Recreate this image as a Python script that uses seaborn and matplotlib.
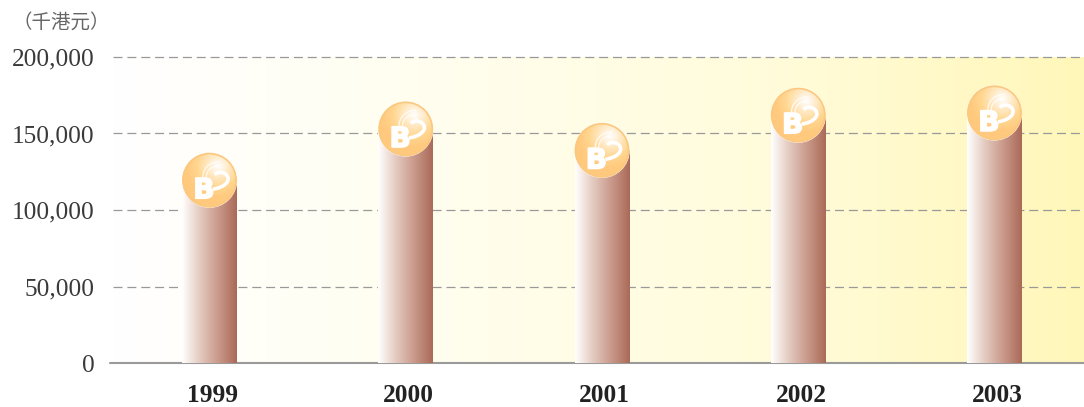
import numpy as np
import pandas as pd
import seaborn as sns
import matplotlib
matplotlib.use("Agg")
import matplotlib.pyplot as plt
import matplotlib.patheffects as pe
from matplotlib.colors import LinearSegmentedColormap
from matplotlib.patches import Circle, PathPatch
from matplotlib.path import Path
from matplotlib.transforms import ScaledTranslation

years = ["1999", "2000", "2001", "2002", "2003"]
turnover = [119500, 153000, 139000, 162000, 163500]
y_ticks = [0, 50000, 100000, 150000, 200000]
unit_label = "（千港元）"

W, H = 1084, 407
BAR_LEFT, BAR_STEP = 209.5, 196.25

sns.set_theme(style="white")
plt.rcParams["font.family"] = ["Liberation Serif", "DejaVu Serif"]

fig = plt.figure(figsize=(W / 100, H / 100), dpi=100)
ax = fig.add_axes([110 / W, 1 - 363 / H, (W - 110) / W, 306 / H])

# background wash, white on the left to pale yellow on the right
wash = LinearSegmentedColormap.from_list("wash", ["#ffffff", "#fffeee", "#fffcdc", "#fff7b9"])
xlim = ((110 - BAR_LEFT) / BAR_STEP, (W - BAR_LEFT) / BAR_STEP)
ax.imshow(np.linspace(0, 1, 256).reshape(1, -1), cmap=wash, aspect="auto",
          extent=[xlim[0], xlim[1], 0, 200000], zorder=0)

df = pd.DataFrame({"year": years, "turnover": turnover})
sns.barplot(data=df, x="year", y="turnover", width=0.28, color="white", linewidth=0, ax=ax, zorder=3)

# cylinder shading on the bars
shade = LinearSegmentedColormap.from_list("shade", ["#ffffff", "#e3c9bf", "#c9998a", "#ab6a58"])
for bar in ax.patches:
    x0, y0, w, h = bar.get_x(), bar.get_y(), bar.get_width(), bar.get_height()
    ax.imshow(np.linspace(0, 1, 128).reshape(1, -1), cmap=shade, aspect="auto",
              extent=[x0, x0 + w, y0, y0 + h], zorder=4)
ax.set_xlim(*xlim)
ax.set_ylim(0, 200000)

# dashed grid, starts a little right of the axis
for tick in y_ticks[1:]:
    ax.plot([(113 - BAR_LEFT) / BAR_STEP, xlim[1]], [tick, tick], color="#999999", lw=0.9,
            dashes=(7.2, 3.9), zorder=2, clip_on=False)
ax.axhline(0, color="#9a9a9a", lw=1.5, zorder=2, clip_on=False)

ax.set_yticks(y_ticks)
ax.set_yticklabels([f"{t:,}" for t in y_ticks], fontsize=18.2, color="#3a3a3a")
ax.set_xticks(range(len(years)))
ax.set_xticklabels(years, fontsize=18.3, fontweight="bold", color="#222222")
ax.tick_params(axis="y", length=0, pad=11)
ax.tick_params(axis="x", length=0, pad=15)
for label in ax.get_xticklabels():
    label.set_transform(label.get_transform() + ScaledTranslation(2 / 72, 0, fig.dpi_scale_trans))
ax.set_xlabel("")
ax.set_ylabel("")
sns.despine(ax=ax, left=True, bottom=True, top=True, right=True)

fig.text(12 / W, 1 - 22 / H, unit_label, fontsize=14, color="#666666", va="center",
         family=["Noto Sans CJK TC", "DejaVu Sans"])

# orange ball with highlight and logo on top of each bar
yy, xx = np.mgrid[1:-1:200j, -1:1:200j]
glow = np.clip(np.hypot(xx - 0.3, yy - 0.5) / 1.15, 0, 1)
ball = LinearSegmentedColormap.from_list("ball", ["#ffffff", "#ffe9c4", "#ffd68f", "#ffc97e"])
R = 28
hook = Path([(0.18, 0.2), (0.42, 0.42), (0.8, 0.15), (0.62, -0.08), (0.5, -0.25), (0.25, -0.3), (0.12, -0.32)],
            [Path.MOVETO, Path.CURVE4, Path.CURVE4, Path.CURVE4, Path.CURVE4, Path.CURVE4, Path.CURVE4])
swirl = Path([(-0.24, 0.02), (-0.28, 0.4), (0.0, 0.68), (0.38, 0.66)],
             [Path.MOVETO, Path.CURVE4, Path.CURVE4, Path.CURVE4])
swirl2 = Path([(-0.12, 0.05), (-0.14, 0.34), (0.08, 0.52), (0.3, 0.5)],
              [Path.MOVETO, Path.CURVE4, Path.CURVE4, Path.CURVE4])
for i, val in enumerate(turnover):
    px, py = ax.transData.transform((i, val))
    b = fig.add_axes([(px - R) / W, (py - R) / H, 2 * R / W, 2 * R / H], zorder=5)
    b.set_xlim(-1, 1)
    b.set_ylim(-1, 1)
    b.axis("off")
    b.patch.set_alpha(0)
    disc = Circle((0, 0), 0.965, transform=b.transData, facecolor="none")
    b.add_patch(disc)
    im = b.imshow(glow, cmap=ball, extent=[-1, 1, -1, 1], aspect="auto", zorder=1, vmin=0, vmax=1)
    im.set_clip_path(disc)
    b.add_patch(Circle((0, 0), 0.95, fill=False, ec="#fbc87e", lw=1.2, zorder=2))
    b.text(-0.2, -0.36, "B", color="white", fontsize=20, fontweight="bold", family="DejaVu Sans",
           ha="center", va="center", zorder=3,
           path_effects=[pe.withStroke(linewidth=1.2, foreground="white")])
    b.add_patch(PathPatch(hook, fill=False, ec="white", lw=2.6, zorder=3))
    b.add_patch(PathPatch(swirl, fill=False, ec="white", lw=0.9, alpha=0.8, zorder=3))
    b.add_patch(PathPatch(swirl2, fill=False, ec="white", lw=0.9, alpha=0.8, zorder=3))

fig.savefig("out.png", dpi=100, facecolor="white")
